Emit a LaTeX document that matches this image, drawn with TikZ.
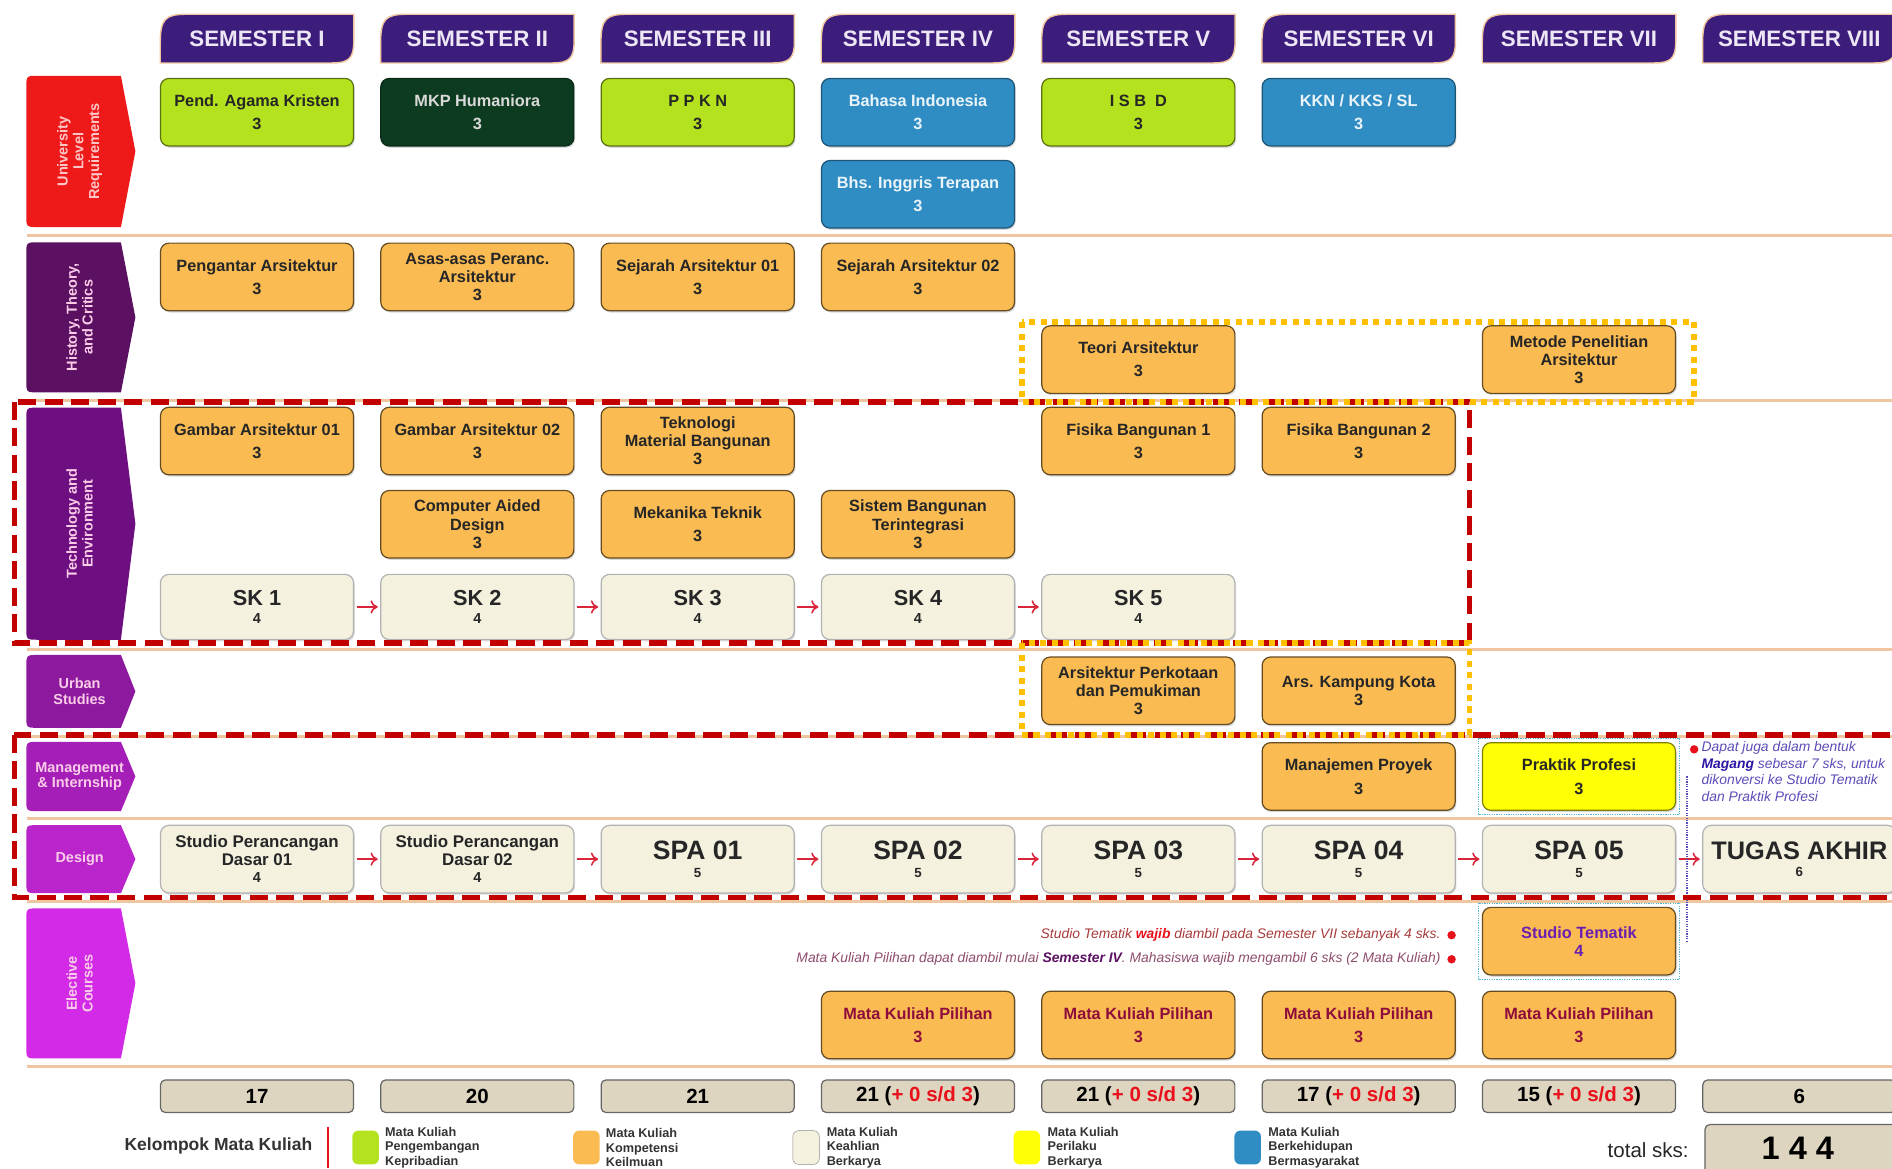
\documentclass[tikz,border=0pt]{standalone}
\usepackage{fontspec}
\setmainfont{Liberation Sans}
\usetikzlibrary{arrows,arrows.meta,positioning,backgrounds,shadows}

\definecolor{lime}{HTML}{B4E21E}
\definecolor{forest}{HTML}{0D3B1F}
\definecolor{skyblue}{HTML}{2F8DC4}
\definecolor{apricot}{HTML}{FABB52}
\definecolor{cream}{HTML}{F4F1DF}
\definecolor{lemon}{HTML}{FFFF05}
\definecolor{sumtan}{HTML}{DDD5BF}
\definecolor{tabpurple}{HTML}{3D1D7B}
\definecolor{tabtext}{HTML}{EDE6F5}
\definecolor{sepline}{HTML}{EFC6A0}
\definecolor{dashred}{HTML}{C20000}
\definecolor{dotorange}{HTML}{FFC000}
\definecolor{arrowred}{HTML}{D9263A}
\definecolor{plusred}{HTML}{E8101A}
\definecolor{maroon}{HTML}{8E0C3C}
\definecolor{tematik}{HTML}{6A1FB0}
\definecolor{notered}{HTML}{A83A3A}
\definecolor{notewine}{HTML}{8E4C6E}
\definecolor{noteblue}{HTML}{5A4CB8}
\definecolor{labred}{HTML}{EE1A1A}
\definecolor{labplum}{HTML}{5B1062}
\definecolor{labviolet}{HTML}{6D0F80}
\definecolor{labpurple}{HTML}{8D1A9E}
\definecolor{labmagA}{HTML}{A51EB8}
\definecolor{labmagB}{HTML}{B924CB}
\definecolor{labmagC}{HTML}{D22AE6}
\definecolor{convcyan}{HTML}{4FB8D8}

\tikzset
{
    course/.style    = {rectangle, rounded corners=7pt, line width=1pt, minimum width=160pt, minimum height=56pt, inner sep=2pt, align=center, font=\fontsize{13.5}{15}\selectfont\bfseries, drop shadow={shadow xshift=1pt, shadow yshift=-1.5pt, opacity=.3}},
    pk/.style        = {course, fill=lime, draw=lime!50!black, text=black!85},
    humaniora/.style = {course, fill=forest, draw=forest!70!black, text=white!85!black},
    bb/.style        = {course, fill=skyblue, draw=skyblue!60!black, text=white!90!skyblue},
    kk/.style        = {course, fill=apricot, draw=apricot!40!black, text=black!85},
    kkp/.style       = {kk, text=maroon},
    pb/.style        = {course, fill=lemon, draw=lemon!50!black, text=black!85},
    kb/.style        = {course, fill=cream, draw=black!30, text=black!85, font=\fontsize{14}{14.5}\selectfont\bfseries},
    skbox/.style     = {kb, minimum height=54pt, font=\fontsize{18}{15}\selectfont\bfseries},
    spabox/.style    = {kb, font=\fontsize{22}{14.5}\selectfont\bfseries},
    semhead/.style   = {minimum width=160pt, minimum height=40pt, inner sep=0pt, text=tabtext, font=\fontsize{18.5}{20}\selectfont\bfseries},
    tab/.style       = {fill=tabpurple, draw=sepline, line width=1.2pt},
    rowlab/.style    = {minimum width=78pt, inner sep=0pt},
    labtext/.style   = {align=center, inner sep=0pt, text=white!80!magenta, font=\fontsize{12}{13}\selectfont\bfseries},
    sumbox/.style    = {rectangle, rounded corners=4pt, fill=sumtan, draw=black!60, line width=1pt, minimum width=160pt, minimum height=27pt, inner sep=0pt, font=\fontsize{17}{17}\selectfont\bfseries},
    flow/.style      = {-{To[length=6pt,width=11pt,line width=1.3pt]}, draw=arrowred, line width=1.3pt, shorten >=2pt, shorten <=2pt},
    sep/.style       = {draw=sepline, line width=2.5pt},
    redbox/.style    = {draw=dashred, line width=4.5pt, dash pattern=on 15pt off 7pt},
    orangebox/.style = {draw=dotorange, line width=4.5pt, dash pattern=on 5pt off 4.5pt},
    convbox/.style   = {draw=convcyan, line width=1pt, densely dotted},
    convline/.style  = {draw=noteblue, line width=1pt, densely dotted},
    note/.style      = {inner sep=0pt, font=\fontsize{11.5}{14}\selectfont\itshape},
    legendtext/.style = {align=left, inner sep=0pt, text=black!80, font=\fontsize{10.5}{12}\selectfont\bfseries},
    swatch/.style    = {rectangle, rounded corners=5pt, minimum width=22pt, minimum height=28pt, inner sep=0pt}
}

\begin{document}
\begin{tikzpicture}[x=1pt, y=-1pt]
\useasboundingbox (0,0) rectangle (1568,968);

% separators
\foreach \y in {195,332,538,610,678,747,884}
  \draw [sep] (22,\y) -- (1568,\y);

% semester headers
\node [semhead] at (213,32) (s1) {SEMESTER I};
\node [semhead] at (395.6,32) (s2) {SEMESTER II};
\node [semhead] at (578.2,32) (s3) {SEMESTER III};
\node [semhead] at (760.8,32) (s4) {SEMESTER IV};
\node [semhead] at (943.4,32) (s5) {SEMESTER V};
\node [semhead] at (1126,32) (s6) {SEMESTER VI};
\node [semhead] at (1308.6,32) (s7) {SEMESTER VII};
\node [semhead] at (1491.2,32) (s8) {SEMESTER VIII};

% row labels
\node [rowlab, minimum height=125pt] at (61,125.5) (ulr) {};
\node [rowlab, minimum height=124pt] at (61,263) (htc) {};
\node [rowlab, minimum height=192pt] at (61,434) (tech) {};
\node [rowlab, minimum height=60pt] at (61,573) (urban) {};
\node [rowlab, minimum height=57pt] at (61,643.5) (mgmt) {};
\node [rowlab, minimum height=56pt] at (61,712) (design) {};
\node [rowlab, minimum height=124pt] at (61,815) (elect) {};

\node [labtext, rotate=90, text=white!78!red] at ([xshift=5pt]ulr.center) {University\\Level\\Requirements};
\node [labtext, rotate=90] at ([xshift=5pt]htc.center) {History, Theory,\\and Critics};
\node [labtext, rotate=90] at ([xshift=5pt]tech.center) {Technology and\\Environment};
\node [labtext] at ([xshift=5pt]urban.center) {Urban\\Studies};
\node [labtext] at ([xshift=5pt]mgmt.center) {Management\\\& Internship};
\node [labtext] at ([xshift=5pt]design.center) {Design};
\node [labtext, rotate=90] at ([xshift=5pt]elect.center) {Elective\\Courses};

\begin{scope}[on background layer]
\foreach \s in {s1,s2,s3,s4,s5,s6,s7,s8}
  \filldraw [tab] (\s.south west) -- ([yshift=-24pt]\s.north west) .. controls ([yshift=-4pt]\s.north west) and ([xshift=4pt]\s.north west) .. ([xshift=22pt]\s.north west) -- (\s.north east) -- ([yshift=18pt]\s.south east) .. controls ([yshift=4pt]\s.south east) and ([xshift=-4pt]\s.south east) .. ([xshift=-18pt]\s.south east) -- cycle;
\foreach \l/\c in {ulr/labred, htc/labplum, tech/labviolet, urban/labpurple, mgmt/labmagA, design/labmagB, elect/labmagC}
  \fill [\c] ([yshift=-10pt]\l.north west) .. controls (\l.north west) .. ([xshift=10pt]\l.north west) -- (\l.north east) -- ([xshift=12pt]\l.east) -- (\l.south east) -- ([xshift=10pt]\l.south west) .. controls (\l.south west) .. ([yshift=10pt]\l.south west) -- cycle;
\end{scope}

% university level requirements
\node [pk] at (213,93) (agama) {Pend. Agama Kristen\\[4pt]3};
\node [humaniora] at (395.6,93) (mkp) {MKP Humaniora\\[4pt]3};
\node [pk] at (578.2,93) (ppkn) {P P K N\\[4pt]3};
\node [bb] at (760.8,93) (bindo) {Bahasa Indonesia\\[4pt]3};
\node [pk] at (943.4,93) (isbd) {I S B~~D\\[4pt]3};
\node [bb] at (1126,93) (kkn) {KKN / KKS / SL\\[4pt]3};
\node [bb] at (760.8,161) (bing) {Bhs. Inggris Terapan\\[4pt]3};

% history, theory and critics
\node [kk] at (213,229.5) (pengantar) {Pengantar Arsitektur\\[4pt]3};
\node [kk] at (395.6,229.5) (asas) {Asas-asas Peranc.\\Arsitektur\\3};
\node [kk] at (578.2,229.5) (sejarah1) {Sejarah Arsitektur 01\\[4pt]3};
\node [kk] at (760.8,229.5) (sejarah2) {Sejarah Arsitektur 02\\[4pt]3};
\node [kk] at (943.4,298) (teori) {Teori Arsitektur\\[4pt]3};
\node [kk] at (1308.6,298) (metode) {Metode Penelitian\\Arsitektur\\3};

% technology and environment
\node [kk] at (213,365.5) (gambar1) {Gambar Arsitektur 01\\[4pt]3};
\node [kk] at (395.6,365.5) (gambar2) {Gambar Arsitektur 02\\[4pt]3};
\node [kk] at (578.2,365.5) (tekmat) {Teknologi\\Material Bangunan\\3};
\node [kk] at (943.4,365.5) (fisika1) {Fisika Bangunan 1\\[4pt]3};
\node [kk] at (1126,365.5) (fisika2) {Fisika Bangunan 2\\[4pt]3};
\node [kk] at (395.6,434.5) (cad) {Computer Aided\\Design\\3};
\node [kk] at (578.2,434.5) (mektek) {Mekanika Teknik\\[4pt]3};
\node [kk] at (760.8,434.5) (sbt) {Sistem Bangunan\\Terintegrasi\\3};
\node [skbox] at (213,503) (sk1) {SK 1\\{\fontsize{12}{12}\selectfont 4}};
\node [skbox] at (395.6,503) (sk2) {SK 2\\{\fontsize{12}{12}\selectfont 4}};
\node [skbox] at (578.2,503) (sk3) {SK 3\\{\fontsize{12}{12}\selectfont 4}};
\node [skbox] at (760.8,503) (sk4) {SK 4\\{\fontsize{12}{12}\selectfont 4}};
\node [skbox] at (943.4,503) (sk5) {SK 5\\{\fontsize{12}{12}\selectfont 4}};

% urban studies
\node [kk] at (943.4,572.5) (perkotaan) {Arsitektur Perkotaan\\dan Pemukiman\\3};
\node [kk] at (1126,572.5) (kampung) {Ars. Kampung Kota\\3};

% management and internship
\node [kk] at (1126,643.5) (manpro) {Manajemen Proyek\\[5pt]3};
\node [pb] at (1308.6,643.5) (praktik) {Praktik Profesi\\[5pt]3};

% design
\node [kb] at (213,712) (spd1) {Studio Perancangan\\Dasar 01\\{\fontsize{12}{12}\selectfont 4}};
\node [kb] at (395.6,712) (spd2) {Studio Perancangan\\Dasar 02\\{\fontsize{12}{12}\selectfont 4}};
\node [spabox] at (578.2,712) (spa1) {SPA 01\\{\fontsize{11}{11}\selectfont 5}};
\node [spabox] at (760.8,712) (spa2) {SPA 02\\{\fontsize{11}{11}\selectfont 5}};
\node [spabox] at (943.4,712) (spa3) {SPA 03\\{\fontsize{11}{11}\selectfont 5}};
\node [spabox] at (1126,712) (spa4) {SPA 04\\{\fontsize{11}{11}\selectfont 5}};
\node [spabox] at (1308.6,712) (spa5) {SPA 05\\{\fontsize{11}{11}\selectfont 5}};
\node [spabox, font=\fontsize{21}{14.5}\selectfont\bfseries] at (1491.2,712) (ta) {TUGAS AKHIR\\{\fontsize{11}{11}\selectfont 6}};

% elective courses
\node [kk, text=tematik] at (1308.6,780) (tematik) {Studio Tematik\\4};
\node [kkp] at (760.8,849.5) (pilihan4) {Mata Kuliah Pilihan\\[4pt]3};
\node [kkp] at (943.4,849.5) (pilihan5) {Mata Kuliah Pilihan\\[4pt]3};
\node [kkp] at (1126,849.5) (pilihan6) {Mata Kuliah Pilihan\\[4pt]3};
\node [kkp] at (1308.6,849.5) (pilihan7) {Mata Kuliah Pilihan\\[4pt]3};

% sequences
\draw [flow] (sk1) -- (sk2);
\draw [flow] (sk2) -- (sk3);
\draw [flow] (sk3) -- (sk4);
\draw [flow] (sk4) -- (sk5);
\draw [flow] (spd1) -- (spd2);
\draw [flow] (spd2) -- (spa1);
\draw [flow] (spa1) -- (spa2);
\draw [flow] (spa2) -- (spa3);
\draw [flow] (spa3) -- (spa4);
\draw [flow] (spa4) -- (spa5);
\draw [flow] (spa5) -- (ta);

% magang conversion
\draw [convbox] ([shift={(-3pt,3pt)}]praktik.north west) rectangle ([shift={(3pt,-3pt)}]praktik.south east);
\draw [convbox] ([shift={(-3pt,3pt)}]tematik.north west) rectangle ([shift={(3pt,-3pt)}]tematik.south east);
\draw [convline] ([xshift=9pt]praktik.east) -- ([xshift=9pt]tematik.east);

% notes
\fill [plusred] (1404,621) circle (3.5pt);
\node [note, anchor=north west, align=left, text=noteblue] at (1410,614) (magang) {Dapat juga dalam bentuk\\{\bfseries\color{tabpurple!70!blue}Magang} sebesar 7 sks, untuk\\dikonversi ke Studio Tematik\\dan Praktik Profesi};
\node [note, anchor=east, text=notered] at (1194,775) (note1) {Studio Tematik {\bfseries\color{plusred}wajib} diambil pada Semester VII sebanyak 4 sks.};
\fill [plusred] (1203,775) circle (3.5pt);
\node [note, anchor=east, text=notewine] at (1194,795) (note2) {Mata Kuliah Pilihan dapat diambil mulai {\bfseries\color{labplum}Semester IV}. Mahasiswa wajib mengambil 6 sks (2 Mata Kuliah)};
\fill [plusred] (1203,795) circle (3.5pt);

% totals per semester
\node [sumbox] at (213,908.5) (tot1) {17};
\node [sumbox] at (395.6,908.5) (tot2) {20};
\node [sumbox] at (578.2,908.5) (tot3) {21};
\node [sumbox] at (760.8,908.5) (tot4) {21 ({\color{plusred}+ 0 s/d 3})};
\node [sumbox] at (943.4,908.5) (tot5) {21 ({\color{plusred}+ 0 s/d 3})};
\node [sumbox] at (1126,908.5) (tot6) {17 ({\color{plusred}+ 0 s/d 3})};
\node [sumbox] at (1308.6,908.5) (tot7) {15 ({\color{plusred}+ 0 s/d 3})};
\node [sumbox] at (1491.2,908.5) (tot8) {6};

% groups
\draw [redbox] (12,333) rectangle (1218,533);
\draw [redbox] (12,609) rectangle (1600,744);
\draw [orangebox] (847,267) rectangle (1404,333);
\draw [orangebox] (847,533) rectangle (1218,609);

% legend
\node [text=black!80, font=\fontsize{14.5}{16}\selectfont\bfseries] at (181,950) (kelompok) {Kelompok Mata Kuliah};
\draw [draw=plusred, line width=1.5pt] (272,934) -- (272,968);
\node [swatch, fill=lime] at (303,951) (sw1) {};
\node [legendtext, anchor=west] at (319,951) (lg1) {Mata Kuliah\\Pengembangan\\Kepribadian};
\node [swatch, fill=apricot] at (486,951) (sw2) {};
\node [legendtext, anchor=west] at (502,951) (lg2) {Mata Kuliah\\Kompetensi\\Keilmuan};
\node [swatch, fill=cream, draw=black!45] at (668,951) (sw3) {};
\node [legendtext, anchor=west] at (685,951) (lg3) {Mata Kuliah\\Keahlian\\Berkarya};
\node [swatch, fill=lemon] at (851,951) (sw4) {};
\node [legendtext, anchor=west] at (868,951) (lg4) {Mata Kuliah\\Perilaku\\Berkarya};
\node [swatch, fill=skyblue] at (1034,951) (sw5) {};
\node [legendtext, anchor=west] at (1051,951) (lg5) {Mata Kuliah\\Berkehidupan\\Bermasyarakat};

\node [anchor=east, text=black!85, font=\fontsize{17}{17}\selectfont] at (1403,953) (totlabel) {total sks:};
\node [sumbox, minimum height=54pt] at (1493,959) (grand) {};
\node [font=\fontsize{27}{27}\selectfont\bfseries, inner sep=0pt] at (1490,952) (grandsum) {1 4 4};
\end{tikzpicture}
\end{document}
